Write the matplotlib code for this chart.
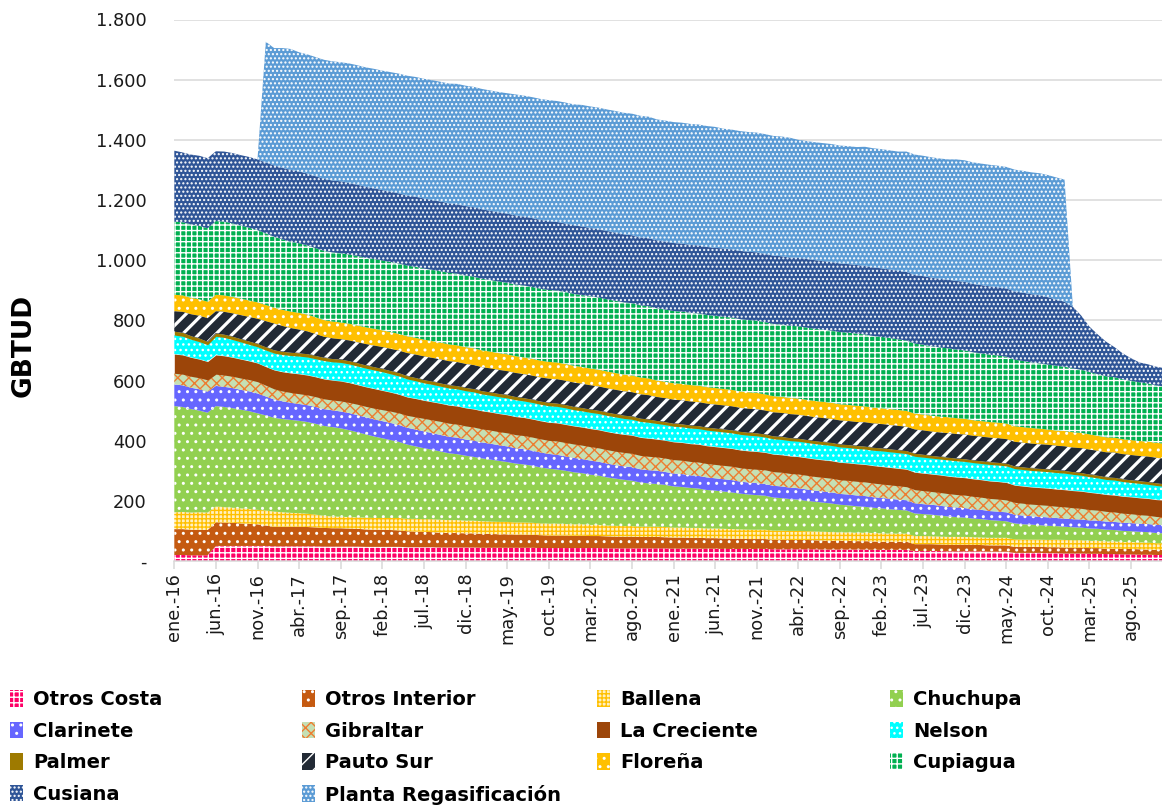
import matplotlib
matplotlib.use("Agg")
import matplotlib.pyplot as plt
import numpy as np

# ---------------- data (GBTUD, monthly ene-16 .. dic-25) ----------------
month_abbr = ['ene', 'feb', 'mar', 'abr', 'may', 'jun', 'jul', 'ago', 'sep', 'oct', 'nov', 'dic']
years = ['16', '17', '18', '19', '20', '21', '22', '23', '24', '25']
categories = [f"{m}.-{y}" for y in years for m in month_abbr]

otros_costa = [20,20,19,19,19,50,50,50,50,50,
               50,50,49,49,49,49,49,49,48,48,
               48,48,48,47,47,47,47,47,46,46,
               46,46,45,45,45,45,45,44,44,44,
               44,44,44,44,43,43,43,43,43,43,
               43,43,42,42,42,42,42,42,42,42,
               41,41,41,41,41,41,40,40,40,40,
               40,40,39,39,39,39,39,39,38,38,
               38,38,38,38,37,37,37,37,37,33,
               33,33,33,32,32,32,32,32,31,31,
               31,27,27,27,27,26,26,25,25,25,
               24,24,23,23,22,22,21,21,20,20]

otros_interior = [86,86,85,85,84,79,78,77,75,74,
                  72,68,65,65,65,65,64,63,62,61,
                  61,60,59,58,57,57,56,55,53,52,
                  51,50,49,48,48,47,47,46,46,45,
                  45,44,44,43,43,42,42,42,41,41,
                  40,40,40,39,39,39,38,38,38,37,
                  37,37,36,36,35,35,35,34,34,33,
                  33,33,32,32,31,31,31,30,30,29,
                  29,29,28,28,28,27,27,27,27,23,
                  23,23,22,22,22,22,22,21,21,21,
                  21,20,20,20,20,20,20,20,19,19,
                  19,19,18,18,18,18,18,17,17,17]

ballena = [56,57,57,58,58,52,51,50,50,49,
           48,50,50,48,46,45,44,42,40,39,
           38,38,38,39,39,39,40,41,41,42,
           42,43,43,43,43,42,42,42,41,41,
           41,40,40,40,39,39,39,38,38,38,
           37,37,36,36,35,35,34,34,34,34,
           33,33,33,33,32,32,32,32,31,31,
           31,31,30,30,30,30,29,29,29,29,
           28,28,28,28,28,28,27,27,27,27,
           27,26,26,26,26,26,25,25,25,25,
           25,25,24,24,24,24,25,25,25,25,
           24,24,24,24,23,23,23,23,22,22]

chuchupa = [353,349,344,338,332,334,333,331,328,325,
            321,316,312,310,309,307,305,302,299,297,
            294,289,283,277,271,265,259,253,247,241,
            236,231,227,222,219,216,212,209,206,203,
            199,196,193,190,186,183,180,177,173,170,
            167,164,160,157,154,151,147,144,142,140,
            137,135,133,131,128,126,124,122,119,117,
            115,113,110,108,106,104,101,99,97,95,
            92,90,88,86,84,83,81,79,77,75,
            73,72,70,68,66,64,62,61,59,57,
            55,53,51,50,48,47,45,44,43,42,
            41,40,39,38,37,36,35,35,34,33]

clarinete = [72,72,71,71,70,67,67,67,66,66,
             66,63,61,59,57,56,56,56,56,56,
             56,57,57,57,57,57,57,56,56,56,
             56,55,55,55,55,54,54,53,53,52,
             52,51,51,50,50,49,49,48,48,47,
             47,46,46,45,45,45,44,44,44,43,
             43,43,42,42,42,41,41,41,40,40,
             40,39,39,39,38,38,38,37,37,37,
             36,36,36,36,35,35,35,34,34,34,
             33,33,33,32,32,32,31,31,30,30,
             30,29,29,28,28,28,27,27,27,27,
             27,27,27,27,27,27,27,27,27,27]

gibraltar = [37,37,38,38,39,39,39,39,39,39,
             39,37,35,34,34,34,34,34,34,34,
             35,35,36,36,37,38,39,40,41,42,
             43,44,45,45,45,45,45,45,45,45,
             45,45,45,45,45,45,46,46,46,46,
             46,46,46,46,46,46,46,46,46,46,
             46,46,46,46,46,46,46,46,46,46,
             46,47,47,47,47,47,47,47,47,47,
             47,47,47,47,47,46,46,46,45,45,
             45,44,44,44,43,43,43,42,42,42,
             41,41,41,40,40,40,39,39,38,37,
             36,35,34,33,32,31,30,29,28,27]

la_creciente = [64,64,63,62,61,64,64,63,63,62,
                62,62,63,64,65,66,66,66,66,66,
                66,66,65,65,65,64,63,62,61,61,
                60,60,60,60,60,60,60,60,60,60,
                60,60,60,60,60,60,60,60,60,60,
                60,60,60,60,60,60,60,60,59,59,
                59,59,59,59,59,59,59,59,59,59,
                59,58,58,58,58,58,58,58,58,58,
                58,58,58,58,58,58,58,58,58,58,
                58,58,58,58,58,58,58,58,58,58,
                58,57,57,57,57,57,57,57,57,57,
                57,56,56,56,56,56,56,56,56,56]

nelson = [63,62,60,58,56,62,61,59,57,55,
          54,55,56,57,58,59,60,60,61,61,
          62,62,62,62,62,62,61,61,60,59,
          58,58,57,57,57,57,57,56,56,56,
          56,56,55,55,55,55,55,55,54,54,
          54,54,54,54,53,53,53,53,52,52,
          52,52,52,52,52,52,52,52,52,52,
          52,51,51,51,51,51,51,51,51,51,
          51,51,51,51,51,52,52,52,52,53,
          53,53,53,54,54,54,54,54,55,55,
          55,55,55,55,55,55,55,55,54,53,
          52,51,50,50,49,48,48,47,47,46]

palmer = [13,13,12,12,11,11,11,11,11,11,
          11,11,11,11,11,11,11,11,11,11,
          11,11,11,11,11,11,11,11,11,11,
          11,11,11,11,11,11,11,11,11,11,
          11,11,11,11,11,11,11,11,11,11,
          11,11,11,11,11,11,11,11,10,10,
          10,10,10,10,10,10,10,10,10,10,
          10,10,10,10,10,10,10,10,10,10,
          10,10,10,10,10,10,10,10,10,10,
          10,9,9,9,9,9,9,9,9,9,
          9,9,9,9,9,9,9,9,9,9,
          9,9,9,9,9,9,9,9,9,9]

pauto_sur = [66,68,71,74,77,72,74,76,78,80,
             82,85,87,84,80,77,74,71,68,67,
             66,67,68,69,70,71,72,73,75,76,
             77,77,78,78,78,78,78,78,78,78,
             78,78,78,78,78,79,79,79,79,79,
             79,79,79,79,79,79,79,79,78,78,
             78,78,78,78,78,78,78,78,78,78,
             78,78,78,78,78,78,78,78,78,78,
             78,78,78,79,79,79,79,79,79,79,
             79,79,79,80,80,80,80,80,80,80,
             80,80,80,80,80,80,80,80,80,81,
             81,81,81,82,82,82,82,83,83,83]

florena = [55,55,55,55,55,55,55,55,55,55,
           55,54,53,54,55,56,56,56,56,56,
           56,56,56,56,56,56,56,56,56,56,
           56,56,56,56,56,56,56,56,56,56,
           56,56,56,56,56,56,56,56,56,56,
           56,56,56,56,56,56,56,56,55,55,
           55,55,55,55,55,55,55,55,55,55,
           55,54,54,54,54,54,54,54,54,54,
           54,54,54,53,53,53,53,53,53,53,
           53,53,53,53,53,53,52,52,52,52,
           52,52,52,52,52,51,51,51,51,51,
           51,50,50,50,50,50,50,50,50,50]

cupiagua = [243,243,244,244,244,245,245,244,243,242,
            240,238,236,234,232,231,230,230,230,230,
            230,230,231,231,232,232,233,234,235,236,
            236,237,237,238,238,238,238,238,238,238,
            238,238,239,239,239,239,239,239,239,239,
            240,240,240,240,240,240,240,240,240,240,
            240,240,240,240,240,240,240,240,240,240,
            240,240,240,240,240,240,240,240,240,240,
            240,240,240,239,238,237,236,235,234,233,
            232,231,230,229,228,227,226,225,224,223,
            222,221,220,218,217,216,215,214,212,210,
            207,205,203,201,199,197,195,193,191,190]

cusiana = [236,232,232,233,233,232,233,234,234,235,
           235,236,237,238,239,239,239,239,239,239,
           239,238,237,236,235,234,234,233,233,233,
           233,232,232,231,231,231,231,231,230,230,
           230,230,229,229,229,229,228,228,228,228,
           227,227,227,227,226,226,226,226,226,226,
           226,226,226,226,226,226,227,227,227,227,
           227,227,227,227,227,228,228,228,228,228,
           228,228,228,228,228,228,228,228,228,228,
           228,228,228,228,228,228,227,227,227,227,
           227,227,227,227,227,224,220,216,205,180,
           151,132,115,100,86,75,66,64,62,61]

planta_regasificacion = [0,0,0,0,0,0,0,0,0,0,
                         0,401,390,398,402,396,396,396,396,396,
                         396,397,397,397,397,397,397,398,398,398,
                         398,398,398,398,400,400,400,400,400,400,
                         400,402,402,402,402,402,402,402,402,404,
                         404,404,404,404,404,404,404,404,402,402,
                         402,402,402,402,402,402,398,398,398,398,
                         398,398,398,398,398,392,392,392,392,392,
                         392,392,392,396,396,396,396,396,400,400,
                         400,400,400,400,404,404,404,404,404,404,
                         404,405,405,405,405,406,406,406,0,0,
                         0,0,0,0,0,0,0,0,0,0]

series_names = ['Otros Costa', 'Otros Interior', 'Ballena', 'Chuchupa', 'Clarinete',
                'Gibraltar', 'La Creciente', 'Nelson', 'Palmer', 'Pauto Sur',
                'Floreña', 'Cupiagua', 'Cusiana', 'Planta Regasificación']
series_values = [otros_costa, otros_interior, ballena, chuchupa, clarinete,
                 gibraltar, la_creciente, nelson, palmer, pauto_sur,
                 florena, cupiagua, cusiana, planta_regasificacion]

y_ticks = [0, 200, 400, 600, 800, 1000, 1200, 1400, 1600, 1800]
y_ticklabels = ['-', '200', '400', '600', '800', '1.000', '1.200', '1.400', '1.600', '1.800']

# ---------------- styles ----------------
face = ['#FF0066', '#C55A11', '#FFF0C2', '#92D050', '#6666FF',
        '#C5E0B4', '#9C4509', '#00FFFF', '#9E7A00', '#222A35',
        '#FFC000', '#00B050', '#2F5597', '#5B9BD5']
hatchcol = ['white', 'white', '#FFC000', 'white', 'white',
            '#ED7D31', 'none', 'white', 'none', 'white',
            'white', 'white', 'white', 'white']
hatches = ['+++', '..', '++++', '..', '..',
           'xxx', None, '...', None, None,
           '..', '+++', '....', '....']

W, H = 1162, 807
fig = plt.figure(figsize=(W / 100, H / 100), dpi=100)
x0_px, y0_px, ytop_px = 174.3, 561.0, 19.5
px_per_month = 8.32
ax = fig.add_axes([x0_px / W, (H - y0_px) / H, (W - x0_px) / W, (y0_px - ytop_px) / H])

x = np.arange(len(categories))
arrays = [np.array(v, dtype=float) for v in series_values]
polys = ax.stackplot(x, *arrays, colors=face, linewidth=0, zorder=2)
for p, fc, hc, h in zip(polys, face, hatchcol, hatches):
    p.set_facecolor(fc)
    p.set_linewidth(0)
    if h:
        p.set_edgecolor(hc)
        p.set_hatch(h)
    else:
        p.set_edgecolor(fc)

# Pauto Sur: wide white diagonal stripes (drawn over its own stack band)
cum = np.cumsum(np.vstack(arrays), axis=0)
with plt.rc_context({'hatch.linewidth': 2.3}):
    pauto_overlay = ax.fill_between(x, cum[8], cum[9], facecolor='#222A35',
                                    edgecolor='white', hatch='//', linewidth=0, zorder=2.5)
    if hasattr(pauto_overlay, 'set_hatch_linewidth'):
        pauto_overlay.set_hatch_linewidth(2.3)

ax.set_xlim(0, (W - x0_px) / px_per_month)
ax.set_ylim(0, 1800)

ax.set_yticks(y_ticks)
ax.set_yticklabels(y_ticklabels)
ax.set_xticks(x[::5])
ax.set_xticklabels(categories[::5], rotation=90)

ax.yaxis.grid(True, color='#D9D9D9', linewidth=1.1, zorder=0)
ax.set_axisbelow(True)
for s in ['top', 'right', 'left']:
    ax.spines[s].set_visible(False)
ax.spines['bottom'].set_color('#D9D9D9')
ax.spines['bottom'].set_linewidth(1.1)
ax.spines['bottom'].set_zorder(3)

ax.tick_params(axis='y', length=0, pad=20, labelsize=12.8, labelcolor='#1a1a1a')
ax.tick_params(axis='x', length=5.5, width=1.1, color='#D9D9D9', pad=3,
               labelsize=12.8, labelcolor='#1a1a1a')

fig.text(24 / W, 1 - 345 / H, 'GBTUD', rotation=90, ha='center', va='center',
         fontsize=19, fontweight='bold', color='black')

# ---------------- legend (4 columns, row-major order) ----------------
handles = list(polys)
handles[9] = pauto_overlay
columns = [[0, 4, 8, 12], [1, 5, 9, 13], [2, 6, 10], [3, 7, 11]]
col_x = [10, 302, 597, 890]
for idxs, cx in zip(columns, col_x):
    fig.legend([handles[i] for i in idxs], [series_names[i] for i in idxs],
               loc='upper left', bbox_to_anchor=(cx / W, 1 - 690 / H),
               bbox_transform=fig.transFigure, frameon=False, borderpad=0,
               borderaxespad=0, handlelength=0.65, handleheight=0.95,
               handletextpad=0.55, labelspacing=0.64,
               prop={'family': 'DejaVu Sans', 'weight': 'bold', 'size': 14})

fig.savefig('out.png', dpi=100)
